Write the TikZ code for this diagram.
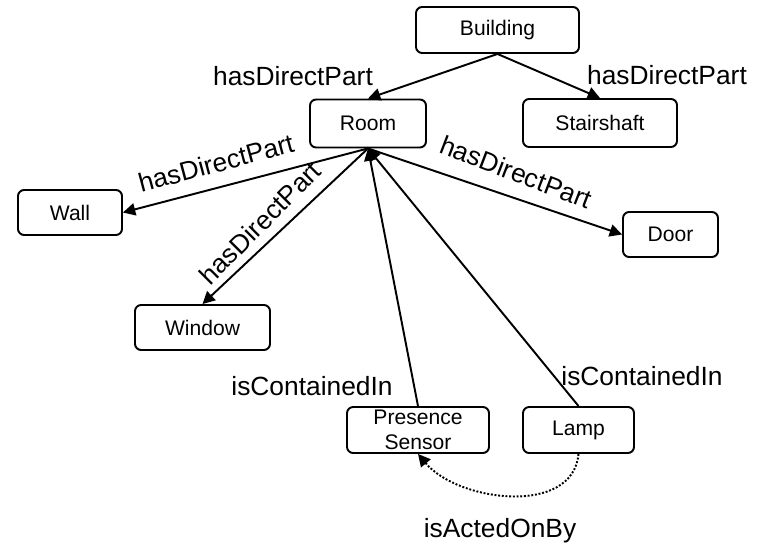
\documentclass[tikz,border=0pt]{standalone}
\usepackage{fontspec}
\setmainfont{Liberation Sans}
\usepackage{tikz}
\usetikzlibrary{arrows.meta}

\begin{document}
\begin{tikzpicture}[scale=0.2]
            \tikzstyle{every node}+=[inner sep=0pt]
            \tikzstyle{thing}=[draw, line width=1.1pt, rounded corners=3.5pt, minimum height=0.92cm, align=center, font=\fontsize{12}{14}\selectfont]
            \tikzstyle{rel}=[line width=1.1pt, -{Triangle[length=7pt,width=7pt]}]
            \tikzstyle{lbl}=[font=\fontsize{15}{17}\selectfont]
            \useasboundingbox (0,0) rectangle (75.9,-54.5);
            % objects
            \node [thing, minimum width=3.26cm] (building) at (49.75,-3.0) {Building};
            \node [thing, minimum width=2.32cm, minimum height=0.96cm] (room) at (36.8,-12.35) {Room};
            \node [thing, minimum width=3.08cm, minimum height=0.96cm] (stairshaft) at (60.0,-12.3) {Stairshaft};
            \node [thing, minimum width=2.08cm, minimum height=0.9cm] (wall) at (7.0,-21.25) {Wall};
            \node [thing, minimum width=2.7cm, minimum height=0.9cm] (window) at (20.25,-32.75) {Window};
            \node [thing, minimum width=1.9cm, minimum height=0.9cm] (door) at (67.05,-23.45) {Door};
            \node [thing, minimum width=2.84cm] (sensor) at (41.8,-43.0) {Presence\\Sensor};
            \node [thing, minimum width=2.22cm] (lamp) at (57.85,-43.0) {Lamp};
            % relations
            \draw [rel] (building.south) -- (room.north);
            \draw [rel] (building.south) -- (stairshaft.north);
            \draw [rel] (room.south) -- (wall.east);
            \draw [rel] (room.south) -- (window.north);
            \draw [rel] (room.south) -- (door.west);
            \draw [rel] (sensor.north) -- (room.south);
            \draw [rel] (lamp.north) -- (room.south);
            \draw [rel, densely dotted] (lamp.south) to [out=-95, in=-50] (sensor.south);
            % labels
            \node [lbl] (lroom) at (29.3,-7.6) {hasDirectPart};
            \node [lbl] (lstair) at (66.7,-7.5) {hasDirectPart};
            \node [lbl, rotate=15] (lwall) at (21.6,-16.3) {hasDirectPart};
            \node [lbl, rotate=45] (lwindow) at (26.0,-22.3) {hasDirectPart};
            \node [lbl, rotate=-21] (ldoor) at (51.6,-17.2) {hasDirectPart};
            \node [lbl] (lsensor) at (31.2,-38.6) {isContainedIn};
            \node [lbl] (llamp) at (64.2,-37.6) {isContainedIn};
            \node [lbl] (lacted) at (50.0,-53.1) {isActedOnBy};
        \end{tikzpicture}
\end{document}
